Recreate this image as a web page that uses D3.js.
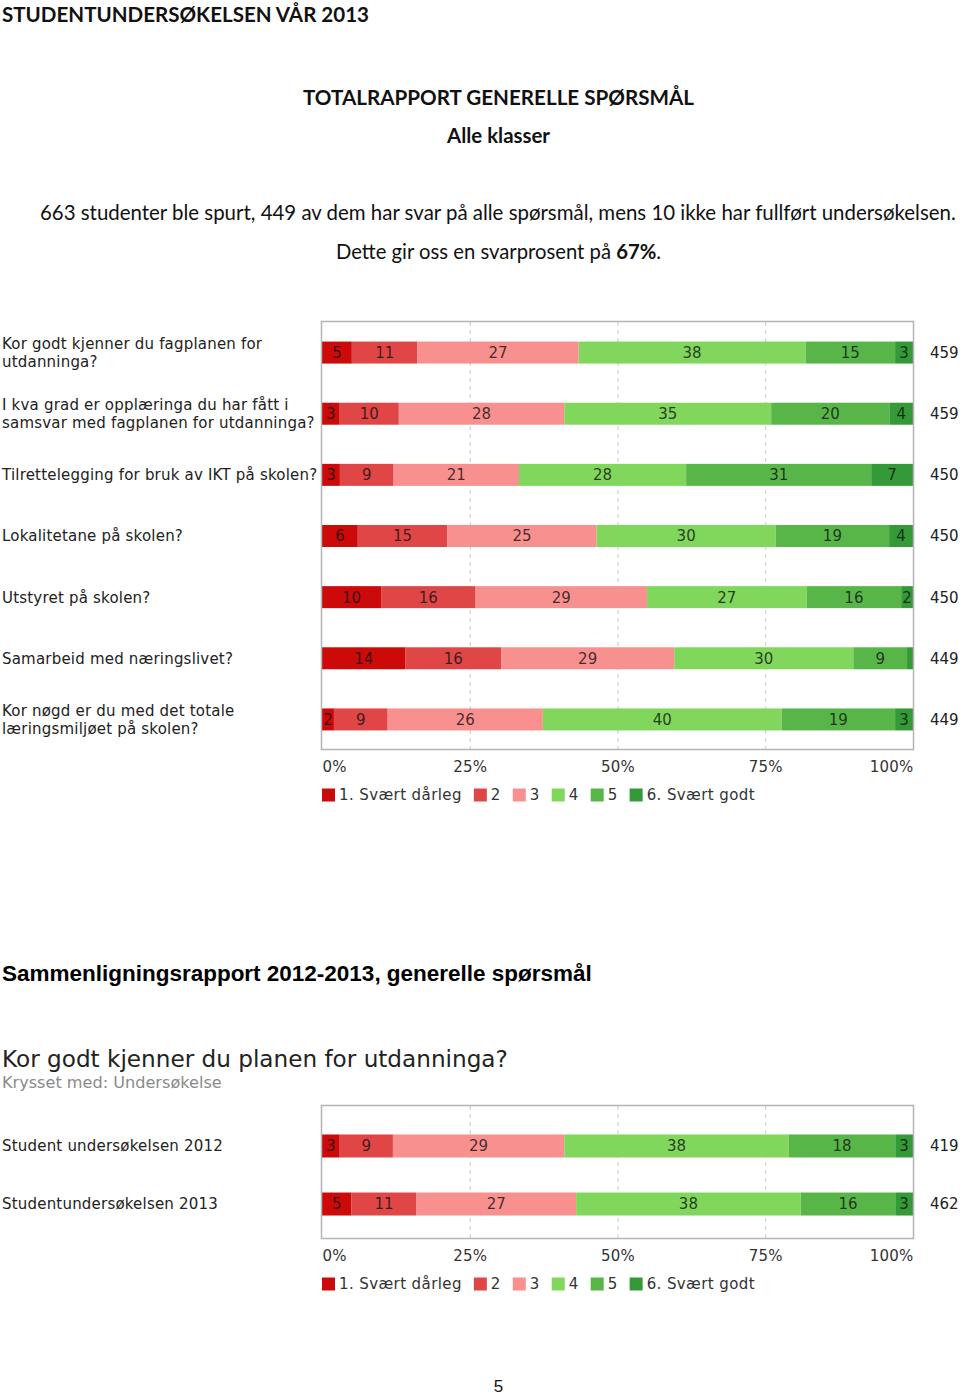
<!DOCTYPE html>
<html><head><meta charset="utf-8">
<script src="https://cdn.jsdelivr.net/npm/d3@7"></script>
<style>
html,body{margin:0;padding:0;background:#fff;}
svg{display:block;}
</style></head>
<body>
<svg id="c" width="960" height="1396"></svg>
<script>
// ---------- DATA ----------
const levels = ["1. Svært dårleg", "2", "3", "4", "5", "6. Svært godt"];
const levelColors = ["#cc0a0a", "#e04646", "#f99090", "#80d75c", "#58b649", "#349a37"];

const questions = [
  ["Kor godt kjenner du fagplanen for", "utdanninga?"],
  ["I  kva grad er opplæringa du har fått i", "samsvar med fagplanen for utdanninga?"],
  ["Tilrettelegging for bruk av IKT på skolen?"],
  ["Lokalitetane på skolen?"],
  ["Utstyret på skolen?"],
  ["Samarbeid med næringslivet?"],
  ["Kor nøgd er du med det totale", "læringsmiljøet på skolen?"]
];
const s1 = [5, 3, 3, 6, 10, 14, 2];
const s2 = [11, 10, 9, 15, 16, 16, 9];
const s3 = [27, 28, 21, 25, 29, 29, 26];
const s4 = [38, 35, 28, 30, 27, 30, 40];
const s5 = [15, 20, 31, 19, 16, 9, 19];
const s6 = [3, 4, 7, 4, 2, 1, 3];
const totals1 = [459, 459, 450, 450, 450, 449, 449];

const surveys = [["Student undersøkelsen 2012"], ["Studentundersøkelsen 2013"]];
const c2s1 = [3, 5];
const c2s2 = [9, 11];
const c2s3 = [29, 27];
const c2s4 = [38, 38];
const c2s5 = [18, 16];
const c2s6 = [3, 3];
const totals2 = [419, 462];

const tickValues = [0, 0.25, 0.5, 0.75, 1];

// ---------- DRAW ----------
const svg = d3.select("#c");
const calibri = "Lato, 'Open Sans', sans-serif";
const verdana = "'DejaVu Sans', Verdana, sans-serif";
const arial = "'Liberation Sans', Arial, sans-serif";
const FS = 15, LS = 0.2;

function fit(sel, target) {
  const n = sel.node();
  const fs = parseFloat(sel.attr("font-size"));
  const w = n.getComputedTextLength();
  sel.attr("font-size", (fs * target / w).toFixed(2));
}
function vfont(sel, color) {
  return sel.attr("font-family", verdana).attr("font-size", FS)
    .attr("letter-spacing", LS).attr("fill", color);
}

// header texts
fit(svg.append("text").attr("x", 2).attr("y", 22).attr("font-family", calibri)
  .attr("font-weight", 700).attr("font-size", 22).attr("fill", "#111")
  .text("STUDENTUNDERSØKELSEN VÅR 2013"), 367);

fit(svg.append("text").attr("x", 498.5).attr("y", 105).attr("text-anchor", "middle")
  .attr("font-family", calibri).attr("font-weight", 700).attr("font-size", 22).attr("fill", "#111")
  .text("TOTALRAPPORT GENERELLE SPØRSMÅL"), 391);

fit(svg.append("text").attr("x", 498.5).attr("y", 143).attr("text-anchor", "middle")
  .attr("font-family", calibri).attr("font-weight", 700).attr("font-size", 20).attr("fill", "#111")
  .text("Alle klasser"), 103);

fit(svg.append("text").attr("x", 40).attr("y", 220).attr("font-family", calibri)
  .attr("font-size", 19).attr("fill", "#111")
  .text("663 studenter ble spurt, 449 av dem har svar på alle spørsmål, mens 10 ikke har fullført undersøkelsen."), 916);

{
  const t = svg.append("text").attr("x", 498.5).attr("y", 259).attr("text-anchor", "middle")
    .attr("font-family", calibri).attr("font-size", 19).attr("fill", "#111");
  t.append("tspan").text("Dette gir oss en svarprosent på ");
  t.append("tspan").attr("font-weight", 700).text("67%");
  t.append("tspan").text(".");
  fit(t, 325);
}

function drawChart(opts) {
  const { cats, series, totals, frameTop, frameBottom, top, bottom, padOuter, barH, left, right } = opts;
  const g = svg.append("g");
  const x = d3.scaleLinear().domain([0, 1]).range([left, right]);
  const y = d3.scaleBand().domain(d3.range(cats.length)).range([top, bottom])
    .paddingInner(0).paddingOuter(padOuter);

  const rows = cats.map((c, i) => {
    const o = { i };
    series.forEach((s, k) => o[k] = s[i]);
    return o;
  });
  const stack = d3.stack().keys(d3.range(series.length)).offset(d3.stackOffsetExpand);
  const layers = stack(rows);

  // gridlines
  g.selectAll("line.grid").data([0.25, 0.5, 0.75]).join("line")
    .attr("x1", d => x(d) + 0.5).attr("x2", d => x(d) + 0.5)
    .attr("y1", frameTop).attr("y2", frameBottom)
    .attr("stroke", "#c8c8c8").attr("stroke-width", 1).attr("stroke-dasharray", "4,4");

  // bars
  const cy = i => y(i) + y.bandwidth() / 2;
  layers.forEach((layer, k) => {
    const lg = g.append("g");
    lg.selectAll("rect").data(layer).join("rect")
      .attr("x", d => x(d[0])).attr("width", d => x(d[1]) - x(d[0]))
      .attr("y", (d, i) => cy(i) - barH / 2).attr("height", barH)
      .attr("fill", levelColors[k]);
    vfont(lg.selectAll("text").data(layer).join("text")
      .filter(d => x(d[1]) - x(d[0]) > 8)
      .attr("x", d => (x(d[0]) + x(d[1])) / 2)
      .attr("y", d => cy(d.data.i))
      .attr("dy", "0.36em").attr("text-anchor", "middle"), "#111")
      .attr("letter-spacing", 0)
      .attr("fill-opacity", 0.8)
      .text(d => series[k][d.data.i]);
  });

  // frame
  g.append("rect").attr("x", left - 0.5).attr("y", frameTop - 0.5)
    .attr("width", right - left + 1).attr("height", frameBottom - frameTop + 1)
    .attr("fill", "none").attr("stroke", "#b4b4b4").attr("stroke-width", 1.5);

  // category labels
  cats.forEach((lines, i) => {
    const t = vfont(g.append("text"), "#222");
    const n = lines.length;
    lines.forEach((ln, j) => {
      t.append("tspan").attr("x", 2)
        .attr("y", cy(i) + (j - (n - 1) / 2) * 18)
        .attr("dy", "0.36em").text(ln);
    });
  });

  // totals
  vfont(g.selectAll("text.tot").data(totals).join("text")
    .attr("x", 930).attr("y", (d, i) => cy(i)).attr("dy", "0.36em"), "#222")
    .attr("letter-spacing", 0)
    .text(d => d);

  // axis
  const ax = g.append("g").attr("transform", `translate(0,${frameBottom + 18})`)
    .call(d3.axisBottom(x).tickValues(tickValues).tickFormat(d3.format(".0%")).tickSize(0).tickPadding(0));
  ax.select(".domain").remove();
  vfont(ax.selectAll("text"), "#333")
    .attr("dy", "0.36em").attr("y", 0)
    .attr("text-anchor", d => d === 0 ? "start" : d === 1 ? "end" : "middle");

  // legend
  const lgY = frameBottom + 46;
  let lx = left;
  levels.forEach((lv, k) => {
    g.append("rect").attr("x", lx).attr("y", lgY - 6.5).attr("width", 13).attr("height", 13)
      .attr("fill", levelColors[k]);
    const t = vfont(g.append("text").attr("x", lx + 17).attr("y", lgY).attr("dy", "0.36em"), "#333")
      .attr("letter-spacing", 0.4).text(lv);
    lx += 17 + t.node().getComputedTextLength() + 12;
  });
}

drawChart({
  cats: questions, series: [s1, s2, s3, s4, s5, s6], totals: totals1,
  frameTop: 322, frameBottom: 749, top: 322, bottom: 750, padOuter: 0, barH: 22, left: 322, right: 913
});

// section 2 headings
fit(svg.append("text").attr("x", 2).attr("y", 981).attr("font-family", arial)
  .attr("font-weight", 700).attr("font-size", 23).attr("fill", "#000")
  .text("Sammenligningsrapport 2012-2013, generelle spørsmål"), 590);

fit(svg.append("text").attr("x", 2).attr("y", 1067).attr("font-family", verdana)
  .attr("font-size", 24).attr("fill", "#222")
  .text("Kor godt kjenner du planen for utdanninga?"), 506);

fit(svg.append("text").attr("x", 2).attr("y", 1088).attr("font-family", verdana)
  .attr("font-size", 16).attr("fill", "#8a8a8a")
  .text("Krysset med: Undersøkelse"), 220);

drawChart({
  cats: surveys, series: [c2s1, c2s2, c2s3, c2s4, c2s5, c2s6], totals: totals2,
  frameTop: 1106, frameBottom: 1238, top: 1110, bottom: 1240, padOuter: 0.12, barH: 23, left: 322, right: 913
});

svg.append("text").attr("x", 498.5).attr("y", 1392).attr("text-anchor", "middle")
  .attr("font-family", arial).attr("font-size", 17).attr("fill", "#111").text("5");
</script>
</body></html>
